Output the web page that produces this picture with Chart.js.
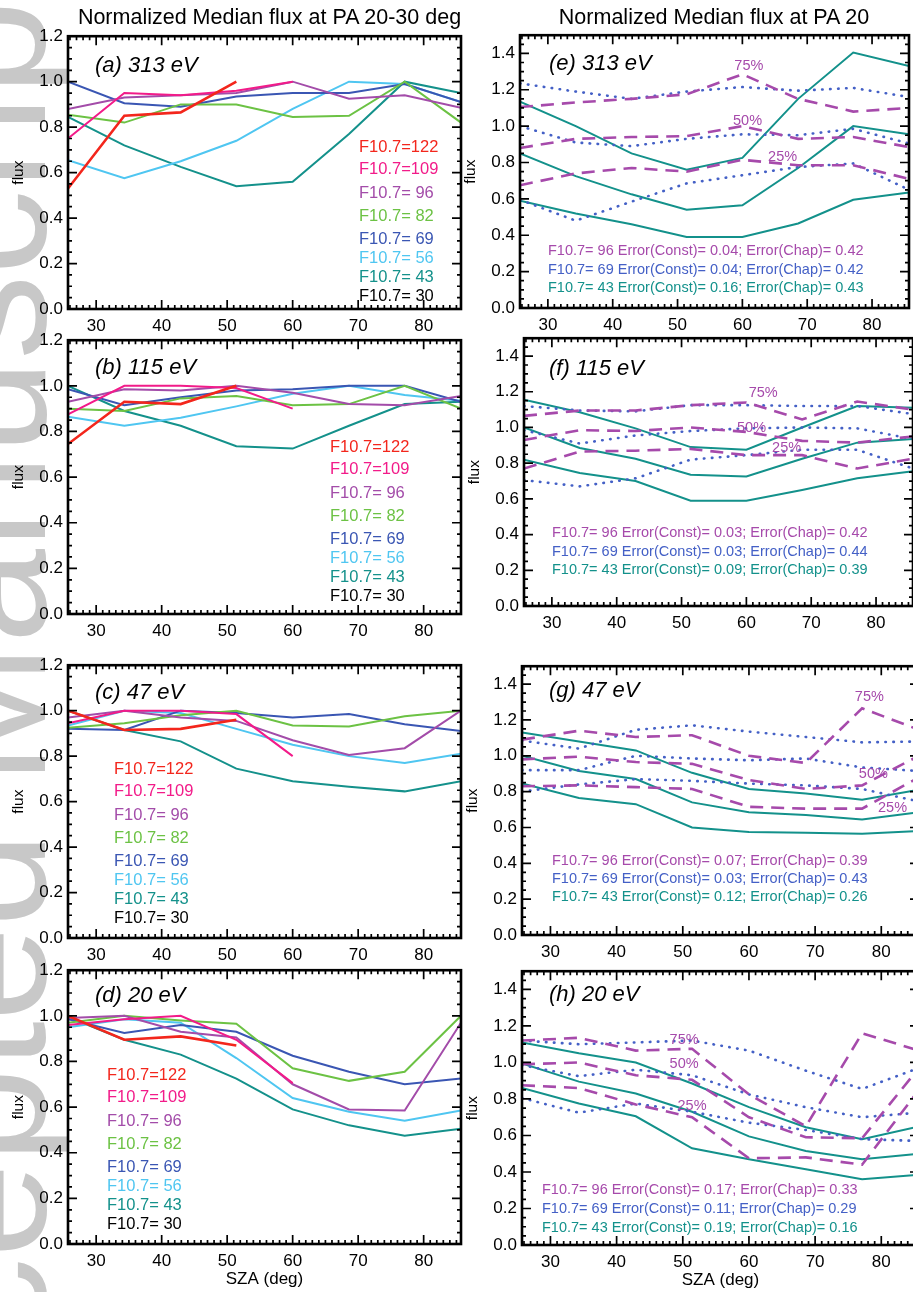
<!DOCTYPE html>
<html>
<head>
<meta charset="utf-8">
<title>Normalized median flux vs SZA</title>
<script src="https://cdn.jsdelivr.net/npm/chart.js@4.4.1/dist/chart.umd.min.js"></script>
<style>
  html, body { margin: 0; padding: 0; background: #fff; }
  #page { position: relative; width: 913px; height: 1292px; overflow: hidden; background: #fff;
          font-family: "Liberation Sans", Arial, Helvetica, sans-serif; }
  #mark { position: absolute; left: 0; top: 0; }
  #page canvas.panel { position: absolute; }
  .heading { position: absolute; top: 7px; font-size: 21.5px; line-height: 1; white-space: nowrap;
             transform: translateX(-50%); color: #000; }
</style>
</head>
<body>
<div id="page">
  <canvas id="mark" width="913" height="1292"></canvas>
  <div class="heading" style="left:269.5px">Normalized Median flux at PA 20-30 deg</div>
  <div class="heading" style="left:714px">Normalized Median flux at PA 20</div>
</div>
<script>
const FONT = '"Liberation Sans", Arial, Helvetica, sans-serif';

// SZA bin centres (deg), shared by every panel
const szaBins = [25.7, 34.3, 42.9, 51.4, 60.0, 68.6, 77.1, 85.7];
const szaTicks = [30, 40, 50, 60, 70, 80];
const fluxTicksLeft = [0, 0.2, 0.4, 0.6, 0.8, 1.0, 1.2];
const fluxTicksRight = [0, 0.2, 0.4, 0.6, 0.8, 1.0, 1.2, 1.4];
const energies = [313, 115, 47, 20];

// F10.7 groups; each row of a flux table below belongs to one group
const f107Levels = [122, 109, 96, 82, 69, 56, 43, 30];
const f107Colors = ['#f3261c', '#f21b89', '#a34ca9', '#6cc244', '#3a56b3', '#4fc6f1', '#14918b', '#000000'];

// normalized median flux, PA 20-30 deg
const flux313 = [
  [0.53, 0.85, 0.865, 1.0],
  [0.75, 0.95, 0.94, 0.96, 1.0],
  [0.88, 0.93, 0.94, 0.95, 1.0, 0.925, 0.94, 0.885],
  [0.855, 0.82, 0.90, 0.90, 0.845, 0.85, 1.0, 0.82],
  [1.0, 0.905, 0.89, 0.935, 0.95, 0.95, 0.99, 0.91],
  [0.655, 0.575, 0.65, 0.74, 0.88, 1.0, 0.99, 0.91],
  [0.845, 0.72, 0.625, 0.54, 0.56, 0.77, 1.0, 0.95],
  []
];
const flux115 = [
  [0.745, 0.93, 0.92, 1.0],
  [0.875, 1.0, 1.0, 0.99, 0.90],
  [0.93, 0.985, 0.98, 1.0, 0.97, 0.92, 0.915, 0.955],
  [0.90, 0.89, 0.945, 0.955, 0.915, 0.92, 1.0, 0.90],
  [0.985, 0.915, 0.95, 0.98, 0.985, 1.0, 1.0, 0.93],
  [0.865, 0.825, 0.86, 0.91, 0.965, 1.0, 0.96, 0.935],
  [1.0, 0.89, 0.825, 0.735, 0.725, 0.825, 0.92, 0.93],
  []
];
const flux47 = [
  [1.0, 0.915, 0.92, 0.96],
  [0.945, 1.0, 1.0, 0.985, 0.80],
  [0.97, 1.0, 0.97, 0.955, 0.87, 0.805, 0.835, 1.0],
  [0.925, 0.945, 0.98, 1.0, 0.935, 0.93, 0.975, 1.0],
  [0.92, 0.915, 1.0, 0.99, 0.97, 0.985, 0.94, 0.91],
  [0.935, 1.0, 0.99, 0.92, 0.85, 0.80, 0.77, 0.81],
  [1.0, 0.915, 0.865, 0.745, 0.69, 0.665, 0.645, 0.69],
  []
];
const flux20 = [
  [1.0, 0.895, 0.91, 0.87],
  [0.96, 0.985, 1.0, 0.895, 0.705],
  [0.99, 1.0, 0.93, 0.905, 0.70, 0.59, 0.585, 0.97],
  [0.97, 1.0, 0.98, 0.965, 0.77, 0.715, 0.755, 1.0],
  [0.985, 0.925, 0.96, 0.93, 0.825, 0.755, 0.70, 0.725],
  [0.95, 0.985, 0.97, 0.815, 0.64, 0.58, 0.54, 0.585],
  [0.995, 0.895, 0.83, 0.725, 0.59, 0.52, 0.475, 0.505],
  []
];

// PA 20 quartiles for the three fitted groups (rows follow fitLevels)
const fitLevels = [96, 69, 43];
const fitColors = ['#a64aab', '#4460c6', '#13918b'];

const q313_75 = [
  [1.105, 1.13, 1.15, 1.175, 1.285, 1.15, 1.08, 1.10],
  [1.235, 1.19, 1.15, 1.19, 1.215, 1.195, 1.21, 1.16],
  [1.135, 1.0, 0.85, 0.76, 0.825, 1.15, 1.405, 1.33]
];
const q313_50 = [
  [0.88, 0.93, 0.94, 0.945, 1.0, 0.93, 0.94, 0.885],
  [1.0, 0.91, 0.89, 0.93, 0.955, 0.95, 0.985, 0.905],
  [0.85, 0.725, 0.625, 0.54, 0.565, 0.77, 1.0, 0.955]
];
const q313_25 = [
  [0.675, 0.74, 0.77, 0.75, 0.815, 0.785, 0.785, 0.71],
  [0.595, 0.48, 0.585, 0.685, 0.73, 0.775, 0.795, 0.65],
  [0.59, 0.52, 0.46, 0.39, 0.39, 0.465, 0.595, 0.635]
];
const q115_75 = [
  [1.065, 1.095, 1.095, 1.125, 1.14, 1.045, 1.145, 1.10],
  [1.12, 1.095, 1.09, 1.125, 1.125, 1.12, 1.12, 1.075],
  [1.155, 1.085, 0.995, 0.89, 0.875, 1.0, 1.12, 1.11]
];
const q115_50 = [
  [0.93, 0.985, 0.98, 1.0, 0.975, 0.925, 0.915, 0.95],
  [0.985, 0.91, 0.955, 0.98, 0.995, 1.0, 0.995, 0.935],
  [1.0, 0.885, 0.825, 0.735, 0.725, 0.825, 0.915, 0.935]
];
const q115_25 = [
  [0.77, 0.865, 0.87, 0.88, 0.845, 0.845, 0.77, 0.825],
  [0.705, 0.67, 0.715, 0.82, 0.845, 0.875, 0.875, 0.77],
  [0.82, 0.745, 0.70, 0.59, 0.59, 0.65, 0.715, 0.755]
];
const q47_75 = [
  [1.09, 1.14, 1.105, 1.115, 1.0, 0.96, 1.265, 1.145],
  [1.085, 1.04, 1.145, 1.17, 1.135, 1.105, 1.075, 1.08],
  [1.13, 1.08, 1.03, 0.905, 0.815, 0.79, 0.755, 0.81]
];
const q47_50 = [
  [0.98, 0.995, 0.965, 0.955, 0.865, 0.815, 0.835, 1.0],
  [0.92, 0.92, 1.0, 0.985, 0.975, 0.985, 0.935, 0.915],
  [1.0, 0.915, 0.87, 0.74, 0.685, 0.67, 0.645, 0.685]
];
const q47_25 = [
  [0.83, 0.835, 0.825, 0.815, 0.715, 0.705, 0.705, 0.88],
  [0.80, 0.84, 0.87, 0.86, 0.845, 0.835, 0.815, 0.745],
  [0.845, 0.765, 0.73, 0.60, 0.575, 0.57, 0.565, 0.58]
];
const q20_75 = [
  [1.12, 1.135, 1.065, 1.075, 0.825, 0.65, 1.16, 1.065],
  [1.12, 1.10, 1.11, 1.12, 1.065, 0.955, 0.855, 0.97],
  [1.11, 1.05, 1.0, 0.885, 0.755, 0.645, 0.58, 0.65]
];
const q20_50 = [
  [0.99, 1.0, 0.93, 0.905, 0.70, 0.59, 0.585, 0.97],
  [0.985, 0.925, 0.96, 0.93, 0.825, 0.755, 0.70, 0.725],
  [0.995, 0.895, 0.83, 0.73, 0.595, 0.515, 0.47, 0.50]
];
const q20_25 = [
  [0.875, 0.86, 0.77, 0.70, 0.475, 0.48, 0.44, 0.85],
  [0.805, 0.725, 0.775, 0.73, 0.67, 0.63, 0.58, 0.57],
  [0.86, 0.775, 0.705, 0.53, 0.47, 0.415, 0.36, 0.385]
];

// fit errors against a constant and a Chapman profile (rows follow fitLevels)
const errConst313 = [0.04, 0.04, 0.16], errChap313 = [0.42, 0.42, 0.43];
const errConst115 = [0.03, 0.03, 0.09], errChap115 = [0.42, 0.44, 0.39];
const errConst47 = [0.07, 0.03, 0.12], errChap47 = [0.39, 0.43, 0.26];
const errConst20 = [0.17, 0.11, 0.19], errChap20 = [0.33, 0.29, 0.16];

// ---- layout ----
const Y_AXIS_W = 60, PAD_TOP = 12, PAD_RIGHT = 6;
const legendRowGaps = [0, 22, 46, 69, 92, 111, 130, 149];
const quartileNames = ['75%', '50%', '25%'];

const leftPanels = [
  { tag: '(a) ' + energies[0] + ' eV', flux: flux313, box: [68, 33, 461, 309], tagAt: [27, 30], legendAt: [291, 111] },
  { tag: '(b) ' + energies[1] + ' eV', flux: flux115, box: [68, 337, 461, 614], tagAt: [27, 28], legendAt: [262, 107] },
  { tag: '(c) ' + energies[2] + ' eV', flux: flux47, box: [68, 662, 461, 938], tagAt: [27, 28], legendAt: [46, 104] },
  { tag: '(d) ' + energies[3] + ' eV', flux: flux20, box: [68, 967, 461, 1244], tagAt: [27, 26], legendAt: [39, 105], last: true }
];
const rightPanels = [
  { tag: '(e) ' + energies[0] + ' eV', q: [q313_75, q313_50, q313_25], err: [errConst313, errChap313],
    box: [520, 32, 909, 308], tagAt: [29, 29], notesAt: [28, 216], noteGaps: [0, 18.4, 36.7],
    spots: [[61.0, 1.33], [60.8, 1.026], [66.2, 0.828]] },
  { tag: '(f) ' + energies[1] + ' eV', q: [q115_75, q115_50, q115_25], err: [errConst115, errChap115],
    box: [524, 335, 913, 606], tagAt: [25, 31], notesAt: [28, 195], noteGaps: [0, 18.7, 36.7],
    spots: [[62.6, 1.195], [60.8, 0.996], [66.2, 0.885]] },
  { tag: '(g) ' + energies[2] + ' eV', q: [q47_75, q47_50, q47_25], err: [errConst47, errChap47],
    box: [522, 663, 919, 935], tagAt: [27, 25], notesAt: [30, 195], noteGaps: [0, 17.7, 36],
    spots: [[78.2, 1.328], [78.8, 0.901], [81.7, 0.708]] },
  { tag: '(h) ' + energies[3] + ' eV', q: [q20_75, q20_50, q20_25], err: [errConst20, errChap20],
    box: [522, 968, 919, 1245], tagAt: [27, 24], notesAt: [20, 219], noteGaps: [0, 18.3, 37.3],
    spots: [[50.2, 1.125], [50.2, 0.992], [51.4, 0.763]], last: true }
];

const levelText = v => 'F10.7=' + String(v).padStart(3, ' ');

// faint vertical watermark down the left margin
(function drawMark() {
  const g = document.getElementById('mark').getContext('2d');
  g.fillStyle = '#c8c8c8';
  g.font = '170px ' + FONT;
  const lead = g.measureText('Accepted ').width;
  g.translate(45, 785 + lead);
  g.rotate(-Math.PI / 2);
  g.fillText('Accepted Manuscript', 0, 0);
})();

// white plot area, IDL-style box with inward major/minor ticks on all four sides
const axisFrame = {
  id: 'axisFrame',
  beforeDraw(chart) {
    const { ctx, chartArea: a } = chart;
    ctx.save();
    ctx.fillStyle = '#ffffff';
    ctx.fillRect(a.left, a.top, a.right - a.left, a.bottom - a.top);
    ctx.restore();
  },
  afterDatasetsDraw(chart) {
    const { ctx, chartArea: a, scales: { x, y } } = chart;
    ctx.save();
    ctx.strokeStyle = '#000';
    ctx.lineWidth = 1.7;
    ctx.beginPath();
    for (let d = Math.ceil(x.min); d <= x.max; d++) {
      const px = x.getPixelForValue(d);
      const len = d % 10 === 0 ? 9 : 4;
      ctx.moveTo(px, a.bottom); ctx.lineTo(px, a.bottom - len);
      ctx.moveTo(px, a.top); ctx.lineTo(px, a.top + len);
    }
    const steps = Math.round(y.max / 0.05);
    for (let k = 0; k <= steps; k++) {
      const py = y.getPixelForValue(k * 0.05);
      const len = k % 4 === 0 ? 9 : 4;
      ctx.moveTo(a.left, py); ctx.lineTo(a.left + len, py);
      ctx.moveTo(a.right, py); ctx.lineTo(a.right - len, py);
    }
    ctx.stroke();
    ctx.lineWidth = 2.6;
    ctx.strokeRect(a.left, a.top, a.right - a.left, a.bottom - a.top);
    ctx.restore();
  }
};

// panel tag, coloured legend / error lines and quartile labels
function notesPlugin(spec) {
  return {
    id: 'panelNotes',
    afterDraw(chart) {
      const { ctx, chartArea: a, scales: { x, y } } = chart;
      ctx.save();
      ctx.textBaseline = 'middle';
      ctx.textAlign = 'left';
      ctx.fillStyle = '#000';
      ctx.font = 'italic 22px ' + FONT;
      ctx.fillText(spec.tag, a.left + spec.tagAt[0], a.top + spec.tagAt[1]);
      ctx.font = spec.lineFont;
      spec.lines.forEach((ln, i) => {
        ctx.fillStyle = ln.color;
        ctx.fillText(ln.text, a.left + spec.linesAt[0], a.top + spec.linesAt[1] + spec.gaps[i]);
      });
      if (spec.spots) {
        ctx.textAlign = 'center';
        ctx.font = '14.5px ' + FONT;
        ctx.fillStyle = fitColors[0];
        spec.spots.forEach((s, i) => {
          ctx.fillText(quartileNames[i], x.getPixelForValue(s[0]), y.getPixelForValue(s[1]));
        });
      }
      ctx.restore();
    }
  };
}

function baseOptions(yMax, yTicks, last) {
  const tickFont = { size: 17, family: FONT };
  return {
    responsive: false,
    animation: false,
    events: [],
    layout: { padding: { top: PAD_TOP, right: PAD_RIGHT, left: 0, bottom: 0 } },
    plugins: { legend: { display: false }, tooltip: { enabled: false } },
    elements: { point: { radius: 0 }, line: { tension: 0, fill: false } },
    scales: {
      x: {
        type: 'linear',
        min: szaBins[0],
        max: szaBins[szaBins.length - 1],
        afterBuildTicks: s => { s.ticks = szaTicks.map(v => ({ value: v })); },
        afterFit: s => { s.height = last ? 54 : 32; },
        grid: { display: false, drawTicks: false },
        border: { display: false },
        ticks: { color: '#000', padding: 7, autoSkip: false, maxRotation: 0, font: tickFont },
        title: { display: !!last, text: 'SZA (deg)', color: '#000', font: { size: 17, family: FONT },
                 padding: { top: 0, bottom: 8 } }
      },
      y: {
        min: 0,
        max: yMax,
        afterBuildTicks: s => { s.ticks = yTicks.map(v => ({ value: v })); },
        afterFit: s => { s.width = Y_AXIS_W; },
        grid: { display: false, drawTicks: false },
        border: { display: false },
        ticks: { color: '#000', padding: 5, autoSkip: false, font: tickFont, callback: v => v.toFixed(1) },
        title: { display: true, text: 'flux', color: '#000', font: { size: 15.5, family: FONT },
                 padding: { top: 1, bottom: 0 } }
      }
    }
  };
}

function placeCanvas(box, last) {
  const [L, T, R, B] = box;
  const c = document.createElement('canvas');
  c.className = 'panel';
  c.width = R - L + Y_AXIS_W + PAD_RIGHT;
  c.height = B - T + PAD_TOP + (last ? 54 : 32);
  c.style.left = (L - Y_AXIS_W) + 'px';
  c.style.top = (T - PAD_TOP) + 'px';
  document.getElementById('page').appendChild(c);
  return c;
}

const toPoints = row => row.map((v, j) => ({ x: szaBins[j], y: v }));

leftPanels.forEach(p => {
  const datasets = p.flux.map((row, i) => ({
    label: levelText(f107Levels[i]),
    data: toPoints(row),
    borderColor: f107Colors[i],
    borderWidth: i === 0 ? 2.6 : 2
  }));
  const notes = notesPlugin({
    tag: p.tag, tagAt: p.tagAt,
    lineFont: '16.5px ' + FONT,
    linesAt: p.legendAt, gaps: legendRowGaps,
    lines: f107Levels.map((v, i) => ({ text: levelText(v), color: f107Colors[i] }))
  });
  new Chart(placeCanvas(p.box, p.last), {
    type: 'line',
    data: { datasets },
    options: baseOptions(1.2, fluxTicksLeft, p.last),
    plugins: [axisFrame, notes]
  });
});

// line styles per fitted group: dashed, dotted, solid
const fitStyles = [
  { borderWidth: 2.6, borderDash: [13, 8], borderCapStyle: 'butt' },
  { borderWidth: 2.6, borderDash: [0.5, 7.5], borderCapStyle: 'round' },
  { borderWidth: 2, borderDash: [], borderCapStyle: 'butt' }
];

rightPanels.forEach(p => {
  const datasets = [];
  fitLevels.forEach((lvl, g) => {
    p.q.forEach((table, k) => {
      datasets.push(Object.assign({
        label: levelText(lvl) + ' ' + quartileNames[k],
        data: toPoints(table[g]),
        borderColor: fitColors[g]
      }, fitStyles[g]));
    });
  });
  const [errC, errH] = p.err;
  const notes = notesPlugin({
    tag: p.tag, tagAt: p.tagAt,
    lineFont: '14.5px ' + FONT,
    linesAt: p.notesAt, gaps: p.noteGaps,
    lines: fitLevels.map((v, g) => ({
      text: levelText(v) + ' Error(Const)= ' + errC[g].toFixed(2) + '; Error(Chap)= ' + errH[g].toFixed(2),
      color: fitColors[g]
    })),
    spots: p.spots
  });
  new Chart(placeCanvas(p.box, p.last), {
    type: 'line',
    data: { datasets },
    options: baseOptions(1.5, fluxTicksRight, p.last),
    plugins: [axisFrame, notes]
  });
});
</script>
</body>
</html>
